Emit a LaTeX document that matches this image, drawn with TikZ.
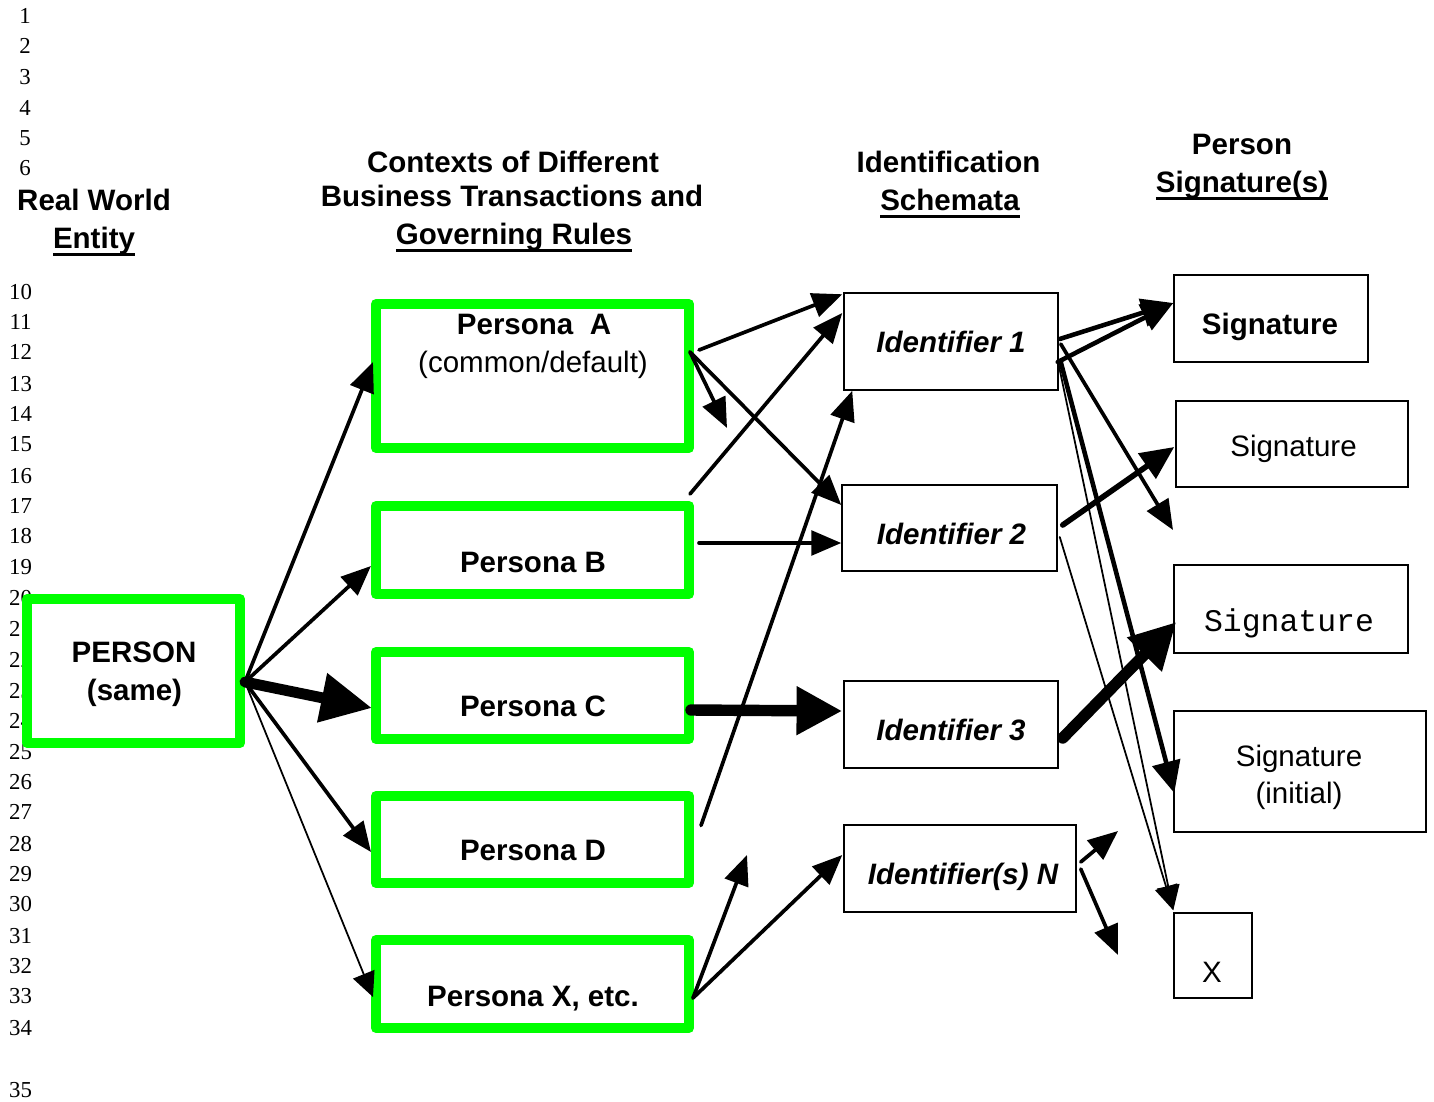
\documentclass[tikz,border=0pt]{standalone}
\usepackage{fontspec}
\setmainfont{Liberation Sans}
\newfontfamily\lnfont{Liberation Serif}
\newfontfamily\sigmono{Liberation Mono}
\usetikzlibrary{arrows.meta,calc}
\definecolor{boxgreen}{RGB}{0,255,0}
\newcommand\fs{\fontsize{16.8pt}{20pt}\selectfont}
% heavy underline set a little below the baseline
\newcommand\ulin[1]{\setbox0\hbox{#1}\rlap{\rule[-4.3pt]{\wd0}{1.7pt}}\box0}
\begin{document}
\begin{tikzpicture}[x=0.02cm,y=-0.02cm,
  lnum/.style={anchor=base,inner sep=0pt,font=\lnfont\fontsize{13pt}{15pt}\selectfont},
  txt/.style={anchor=base,inner sep=0pt,font=\fs},
  greenbox/.style 2 args={draw=boxgreen,fill=white,line width=5.7pt,line join=round,
    minimum width=#1*0.02cm,minimum height=#2*0.02cm,inner sep=0pt},
  idbox/.style 2 args={draw=black,fill=white,line width=0.85pt,
    minimum width=#1*0.02cm,minimum height=#2*0.02cm,inner sep=0pt},
  arr/.style={line width=2.1pt,line cap=round,-{Triangle[length=17pt,width=14pt]}},
  arrthin/.style={line width=1pt,line cap=round,-{Triangle[length=14pt,width=13pt]}},
  arrsig/.style={line width=2.6pt,line cap=round,-{Triangle[length=18pt,width=16pt]}},
  arrmid/.style={line width=3.2pt,line cap=round,-{Triangle[length=19pt,width=17pt]}},
  arrbig/.style={line width=6.2pt,line cap=round,-{Triangle[length=29pt,width=27pt]}},
  arrbigb/.style={line width=6.5pt,line cap=round,-{Triangle[length=26pt,width=26pt]}},
]
\useasboundingbox (0,0) rectangle (1434,1102);

% line numbers in the margin
\foreach \n/\y in {1/15,2/45,3/76,4/107,5/137,6/167}
  \node[lnum] (ln\n) at (25,\y+8.5) {\n};
\foreach \n/\y in {10/291,11/321,12/351,13/383,14/413,15/443,16/475,17/505,18/535,
  19/566,20/597,21/628,22/659,23/690,24/720,25/751,26/781,27/811,28/843,29/873,
  30/903,31/935,32/965,33/995,34/1027,35/1089}
  \node[lnum] (ln\n) at (20.5,\y+8.5) {\n};

% column headings
\node[txt] (hrw) at (94,210.5) {\bfseries Real World};
\node[txt] (hent) at (94,248) {\bfseries\ulin{Entity}};
\node[txt] (hctxa) at (513,172.5) {\bfseries Contexts of Different};
\node[txt] (hctxb) at (512,206.5) {\bfseries Business Transactions and};
\node[txt] (hctxc) at (514,244.5) {\bfseries\ulin{Governing Rules}};
\node[txt] (hida) at (948.5,172.5) {\bfseries Identification};
\node[txt] (hidb) at (950,210.5) {\bfseries\ulin{Schemata}};
\node[txt] (hsga) at (1242,154.5) {\bfseries Person};
\node[txt] (hsgb) at (1242,192.5) {\bfseries\ulin{Signature(s)}};

% entity and personas
\node[greenbox={213}{144}] (person) at (133.5,671) {};
\node[greenbox={313}{144}] (pa) at (532.5,376) {};
\node[greenbox={313}{88}] (pb) at (532.5,550) {};
\node[greenbox={313}{87}] (pc) at (532.5,695.5) {};
\node[greenbox={313}{87}] (pd) at (532.5,839.5) {};
\node[greenbox={313}{88}] (px) at (532.5,984) {};

% identification schemata
\node[idbox={214}{97}] (i1) at (951,341.5) {};
\node[idbox={215}{86}] (i2) at (949.5,528) {};
\node[idbox={214}{87}] (i3) at (951,724.5) {};
\node[idbox={232}{87}] (iN) at (960,868.5) {};

% signatures
\node[idbox={194}{87}] (s1) at (1271,318.5) {};
\node[idbox={232}{86}] (s2) at (1292,444) {};
\node[idbox={234}{88}] (s3) at (1291,609) {};
\node[idbox={252}{121}] (s4) at (1300,771.5) {};
\node[idbox={78}{85}] (sx) at (1213,955.5) {};

% box texts
\node[txt] (tperson) at (134,662.5) {\bfseries PERSON};
\node[txt] (tsame) at (134.5,700.5) {\bfseries (same)};
\node[txt] (tpa) at (534,334.5) {\bfseries Persona\ \ A};
\node[txt] (tpab) at (533,372.5) {(common/default)};
\node[txt] (tpb) at (533,572.5) {\bfseries Persona B};
\node[txt] (tpc) at (533,716.5) {\bfseries Persona C};
\node[txt] (tpd) at (533,860.5) {\bfseries Persona D};
\node[txt] (tpx) at (533,1006.5) {\bfseries Persona X, etc.};
\node[txt] (ti1) at (951,352.5) {\bfseries\itshape Identifier 1};
\node[txt] (ti2) at (951.5,544.5) {\bfseries\itshape Identifier 2};
\node[txt] (ti3) at (951,740.5) {\bfseries\itshape Identifier 3};
\node[txt] (tiN) at (963,884.5) {\bfseries\itshape Identifier(s) N};
\node[txt] (ts1) at (1270,334.5) {\bfseries Signature};
\node[txt] (ts2) at (1293.5,456.5) {Signature};
\node[txt,font=\sigmono\fontsize{17.9pt}{20pt}\selectfont] (ts3) at (1289,631) {Signature};
\node[txt] (ts4a) at (1299,766.5) {Signature};
\node[txt] (ts4b) at (1299,803.5) {(initial)};
\node[txt] (tsx) at (1212,982.5) {X};

% free arrow ends
\coordinate (freeA) at (727,428);
\coordinate (freeX) at (747,855);
\coordinate (freeI) at (1173,530);
\coordinate (freeNa) at (1118,831);
\coordinate (freeNb) at (1118,955);

% person to personas
\draw[arr] ($(person.east)+(0,11)$) -- ($(pa.west)+(2,-14)$);
\draw[arr] ($(person.east)+(0,11)$) -- ($(pb.west)+(0,16)$);
\draw[arrbig] ($(person.east)+(0,11)$) -- ($(pc.west)+(1,12.5)$);
\draw[arr] ($(person.east)+(0,11)$) -- ($(pd.west)+(0,12.5)$);
\draw[arrthin] ($(person.east)+(0,11)$) -- ($(px.west)+(2,13)$);

% personas to identifiers
\draw[arr] ($(pa.east)+(5,-26)$) -- ($(i1.north west)+(-1,2)$);
\draw[arr] ($(pa.east)+(-4,-24)$) -- (freeA);
\draw[arr] ($(pa.east)+(-4,-24)$) -- ($(i2.west)+(0,-23)$);
\draw[arr] ($(pb.north east)+(-4,-7)$) -- ($(i1.west)+(-1,-28.5)$);
\draw[arr] ($(pb.east)+(5,-7)$) -- ($(i2.west)+(0,15)$);
\draw[arrbigb] ($(pc.east)+(-3,14.5)$) -- ($(i3.west)+(-1,-13.5)$);
\draw[arr] ($(pd.east)+(7,-14)$) -- ($(i1.south west)+(9,0)$);
\draw[arr] ($(px.east)+(-1,14)$) -- (freeX);
\draw[arr] ($(px.east)+(-1,14)$) -- ($(iN.west)+(-1,-13.5)$);

% identifiers to signatures
\draw[arrsig] ($(i1.east)+(1,-2.5)$) -- ($(s1.west)+(0,-15.5)$);
\draw[arrsig] ($(i1.east)+(-1,20.5)$) -- ($(s1.west)+(0,-15.5)$);
\draw[arr] ($(i1.east)+(2,2.5)$) -- (freeI);
\draw[arrsig] ($(i1.east)+(2,20.5)$) -- ($(s4.west)+(1,21.5)$);
\draw[arrthin] ($(i1.east)+(0,23.5)$) -- ($(sx.north west)+(0,-2)$);
\draw[arrmid] ($(i2.east)+(5,-3)$) -- ($(s2.west)+(-1,3)$);
\draw[arrthin] ($(i2.east)+(2,9)$) -- ($(sx.north west)+(0,-2)$);
\draw[arrbigb] ($(i3.east)+(4,13.5)$) -- ($(s3.west)+(3,13)$);
\draw[arr] ($(iN.east)+(4,-6.5)$) -- (freeNa);
\draw[arr] ($(iN.east)+(4,0.5)$) -- (freeNb);
\end{tikzpicture}
\end{document}
